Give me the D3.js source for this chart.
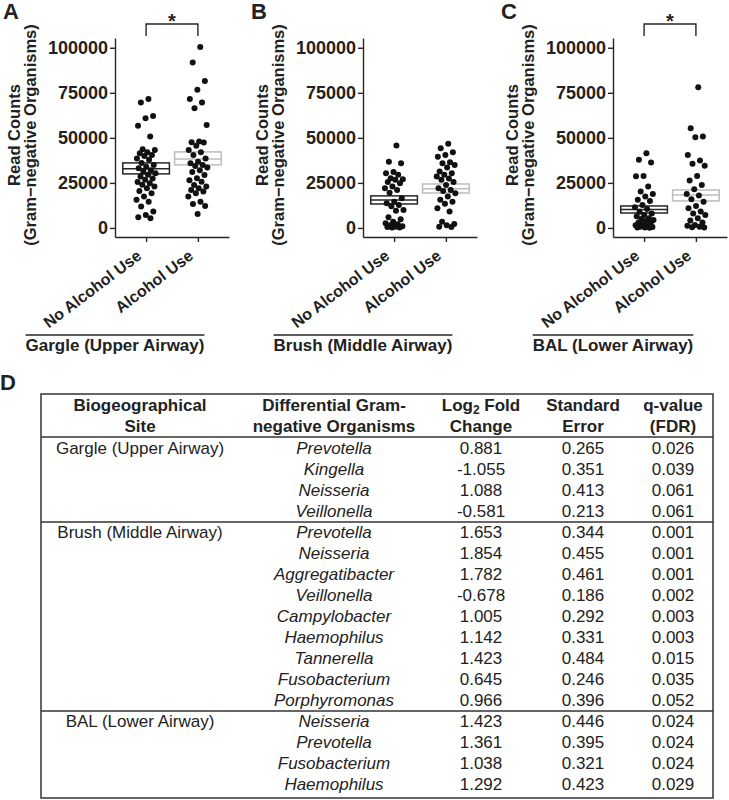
<!DOCTYPE html>
<html>
<head>
<meta charset="utf-8">
<script src="https://cdn.jsdelivr.net/npm/d3@7"></script>
<style>
  body { margin: 0; background: #fff; }
  svg { display: block; }
  text { font-family: 'Liberation Sans', Arial, Helvetica, sans-serif; fill: #222; }
</style>
</head>
<body>
<div id="chart"></div>
<script>
// ---- data ----
const groups = ['No Alcohol Use', 'Alcohol Use']
const panelLetters = ['A', 'B', 'C']
const siteLabels = ['Gargle (Upper Airway)', 'Brush (Middle Airway)', 'BAL (Lower Airway)']
const yTicks = [0, 25000, 50000, 75000, 100000]
const significant = [true, false, true]

const gargleNoAlcohol = [71500, 69600, 62200, 60900, 56700, 50700, 43700, 43300, 42000, 41500, 40500, 40000, 38500, 37800, 36000, 35000, 34000, 33100, 32000, 31300, 30400, 29500, 28500, 27500, 26700, 25500, 24800, 24000, 23000, 22000, 20500, 19300, 17400, 15600, 14500, 11900, 9100, 7200, 5900, 5400]
const gargleAlcohol = [100400, 91800, 81500, 76700, 71500, 69600, 66500, 57200, 48000, 47600, 47400, 45600, 43300, 42000, 40500, 38500, 36800, 35900, 35000, 34400, 33500, 32000, 31000, 29400, 27600, 26500, 25700, 23900, 23000, 22000, 21000, 20200, 19300, 17400, 14600, 13300, 12200, 7800]
const brushNoAlcohol = [45700, 36800, 35900, 31000, 30400, 29500, 27600, 27000, 26700, 25500, 24800, 23000, 22000, 21100, 19500, 16500, 14600, 13700, 12800, 12000, 10000, 9500, 5900, 4800, 3500, 2600, 2000, 1500, 1000, 700, 500, 300, 200]
const brushAlcohol = [46700, 44300, 42000, 40500, 39500, 36500, 35900, 35000, 33500, 31300, 30400, 29500, 28500, 27500, 26700, 25500, 23900, 22000, 21100, 20500, 19300, 17400, 15600, 14600, 13500, 10900, 9100, 3500, 2200, 1500, 700, 500]
const balNoAlcohol = [41500, 37800, 36300, 28900, 28700, 23000, 20200, 18900, 17400, 15600, 15000, 12800, 11500, 10500, 9000, 8000, 7200, 6500, 5400, 5000, 4400, 3800, 3000, 2600, 2000, 1500, 1000, 700, 500, 300, 200, 100]
const balAlcohol = [78100, 55400, 50700, 50400, 40500, 37400, 35600, 34500, 28900, 26300, 23900, 21500, 18900, 18000, 15900, 14600, 12200, 10900, 9100, 8000, 7200, 5400, 4100, 3000, 1700, 1200, 700, 400, 200]

// crossbars: [lower, mean, upper]
const gargleBoxes = [[30000, 32800, 36100], [35000, 38300, 42200]]
const brushBoxes = [[13300, 15500, 17800], [19400, 21700, 24400]]
const balBoxes = [[8300, 10200, 12200], [15000, 18300, 21100]]

const tableHeader = [
  ['Biogeographical', 'Site'],
  ['Differential Gram-', 'negative Organisms'],
  ['Log2 Fold', 'Change'],
  ['Standard', 'Error'],
  ['q-value', '(FDR)']
]
const tableSites = ['Gargle (Upper Airway)', 'Brush (Middle Airway)', 'BAL (Lower Airway)']
const siteRowCounts = [4, 9, 4]
const organisms = ['Prevotella', 'Kingella', 'Neisseria', 'Veillonella',
  'Prevotella', 'Neisseria', 'Aggregatibacter', 'Veillonella', 'Campylobacter', 'Haemophilus', 'Tannerella', 'Fusobacterium', 'Porphyromonas',
  'Neisseria', 'Prevotella', 'Fusobacterium', 'Haemophilus']
const log2FoldChange = ['0.881', '-1.055', '1.088', '-0.581',
  '1.653', '1.854', '1.782', '-0.678', '1.005', '1.142', '1.423', '0.645', '0.966',
  '1.423', '1.361', '1.038', '1.292']
const standardError = ['0.265', '0.351', '0.413', '0.213',
  '0.344', '0.455', '0.461', '0.186', '0.292', '0.331', '0.484', '0.246', '0.396',
  '0.446', '0.395', '0.321', '0.423']
const qValue = ['0.026', '0.039', '0.061', '0.061',
  '0.001', '0.001', '0.001', '0.002', '0.003', '0.003', '0.015', '0.035', '0.052',
  '0.024', '0.024', '0.024', '0.029']

const panels = [
  { letter: panelLetters[0], site: siteLabels[0], points: [gargleNoAlcohol, gargleAlcohol], boxes: gargleBoxes, sig: significant[0] },
  { letter: panelLetters[1], site: siteLabels[1], points: [brushNoAlcohol, brushAlcohol], boxes: brushBoxes, sig: significant[1] },
  { letter: panelLetters[2], site: siteLabels[2], points: [balNoAlcohol, balAlcohol], boxes: balBoxes, sig: significant[2] }
]

// ---- layout ----
const width = 729
const height = 800
const panelLeft = [115, 363, 613]
const panelWidth = 114
const plotTop = 38
const plotBottom = 237
const ink = '#262626'

const svg = d3
  .select('#chart')
  .append('svg')
  .attr('width', width)
  .attr('height', height)

// shared y scale, ggplot-style 5% expansion
const yMax = d3.max(panels, p => d3.max(p.points, s => d3.max(s)))
const yPad = yMax * 0.05
const yPositionScale = d3
  .scaleLinear()
  .domain([-yPad, yMax + yPad])
  .range([plotBottom, plotTop])

panels.forEach((p, pi) => {
  const x0 = panelLeft[pi]
  const g = svg.append('g').attr('class', 'panel')

  const xPositionScale = d3
    .scalePoint()
    .domain(groups)
    .range([x0, x0 + panelWidth])
    .padding(0.6)
  const step = xPositionScale.step()

  // crossbars first, dots on top
  groups.forEach((grp, gi) => {
    const [lo, mid, hi] = p.boxes[gi]
    const cx = xPositionScale(grp)
    const bw = step * 0.9
    const col = gi === 0 ? '#262626' : '#bdbdbd'
    g.append('rect')
      .attr('x', cx - bw / 2)
      .attr('y', yPositionScale(hi))
      .attr('width', bw)
      .attr('height', yPositionScale(lo) - yPositionScale(hi))
      .attr('fill', 'white')
      .attr('stroke', col)
      .attr('stroke-width', 1.5)
    g.append('line')
      .attr('x1', cx - bw / 2)
      .attr('x2', cx + bw / 2)
      .attr('y1', yPositionScale(mid))
      .attr('y2', yPositionScale(mid))
      .attr('stroke', col)
      .attr('stroke-width', 1.5)
  })

  groups.forEach((grp, gi) => {
    g.selectAll('.dot' + gi)
      .data(p.points[gi])
      .enter()
      .append('circle')
      .attr('class', 'dot' + gi)
      // deterministic spread standing in for ggplot's jitter
      .attr('cx', (d, i) => xPositionScale(grp) + ((((i + 1) * 0.618034) % 1) - 0.5) * 0.38 * step)
      .attr('cy', d => yPositionScale(d))
      .attr('r', 3)
      .attr('fill', '#111')
  })

  const yAxis = d3.axisLeft(yPositionScale)
    .tickValues(yTicks)
    .tickFormat(d3.format('d'))
    .tickSize(5)
    .tickSizeOuter(0)
  const ya = g.append('g')
    .attr('class', 'axis y-axis')
    .attr('transform', 'translate(' + x0 + ',0)')
    .call(yAxis)

  const xAxis = d3.axisBottom(xPositionScale).tickSize(5).tickSizeOuter(0)
  const xa = g.append('g')
    .attr('class', 'axis x-axis')
    .attr('transform', 'translate(0,' + plotBottom + ')')
    .call(xAxis)

  ;[ya, xa].forEach(a => {
    a.selectAll('path, line').attr('stroke', ink).attr('stroke-width', 1.4)
    a.selectAll('text')
      .attr('fill', ink)
      .style('font-weight', 'bold')
  })
  ya.selectAll('text').attr('x', -7).style('font-size', '18px')

  xa.selectAll('text')
    .attr('x', 0)
    .attr('y', 0)
    .attr('dy', 0)
    .attr('text-anchor', 'end')
    .style('font-size', '16px')
    .attr('transform', 'translate(-4,21) rotate(-37)')

  // y title, two lines
  const yTitle = g.append('text')
    .attr('text-anchor', 'middle')
    .attr('transform', 'translate(' + (x0 - 95) + ',135) rotate(-90)')
    .style('font-size', '16.5px')
    .style('font-weight', 'bold')
  yTitle.append('tspan').attr('x', 0).attr('y', 0).text('Read Counts')
  yTitle.append('tspan').attr('x', 0).attr('y', 16).text('(Gram\u2212negative Organisms)')

  // panel letter
  g.append('text')
    .attr('x', x0 - 112)
    .attr('y', 19)
    .style('font-size', '22px')
    .style('font-weight', 'bold')
    .attr('fill', '#111')
    .text(p.letter)

  // significance bracket
  if (p.sig) {
    const a = xPositionScale(groups[0])
    const b = xPositionScale(groups[1])
    g.append('path')
      .attr('d', 'M' + a + ',36V24H' + b + 'V36')
      .attr('fill', 'none')
      .attr('stroke', ink)
      .attr('stroke-width', 1.4)
    g.append('text')
      .attr('x', (a + b) / 2)
      .attr('y', 28)
      .attr('text-anchor', 'middle')
      .style('font-size', '20px')
      .style('font-weight', 'bold')
      .text('*')
  }

  // site label with rule above it
  const siteText = g.append('text')
    .attr('x', x0)
    .attr('y', 351)
    .attr('text-anchor', 'middle')
    .style('font-size', '17px')
    .style('font-weight', 'bold')
    .text(p.site)
  const tw = siteText.node().getComputedTextLength()
  g.append('line')
    .attr('x1', x0 - tw / 2)
    .attr('x2', x0 + tw / 2)
    .attr('y1', 335)
    .attr('y2', 335)
    .attr('stroke', ink)
    .attr('stroke-width', 1.4)
})

// ---- panel D: table ----
const tableLeft = 41
const tableRight = 713
const tableTop = 394
const headerBottom = 437
const rowPitch = 21
const colCenters = [140, 334, 481, 583, 673]
const nRows = organisms.length
const tableBottom = headerBottom + nRows * rowPitch + 4

const tg = svg.append('g').attr('class', 'table')

tg.append('text')
  .attr('x', 0)
  .attr('y', 390)
  .style('font-size', '22px')
  .style('font-weight', 'bold')
  .attr('fill', '#111')
  .text('D')

tg.append('rect')
  .attr('x', tableLeft)
  .attr('y', tableTop)
  .attr('width', tableRight - tableLeft)
  .attr('height', tableBottom - tableTop)
  .attr('fill', 'none')
  .attr('stroke', '#333')
  .attr('stroke-width', 1.5)

tableHeader.forEach((lines, ci) => {
  lines.forEach((line, li) => {
    const t = tg.append('text')
      .attr('x', colCenters[ci])
      .attr('y', 411 + li * 21)
      .attr('text-anchor', 'middle')
      .style('font-size', '17px')
      .style('font-weight', 'bold')
    if (line.startsWith('Log2')) {
      t.append('tspan').text('Log')
      t.append('tspan').attr('dy', 2.5).style('font-size', '12px').text('2')
      t.append('tspan').attr('dy', -2.5).text(' Fold')
    } else {
      t.text(line)
    }
  })
})

// row centres, with a divider between site groups
const rowY = i => headerBottom + 10.5 + i * rowPitch
const dividers = [headerBottom]
let acc = 0
siteRowCounts.forEach((n, si) => {
  if (si > 0) dividers.push(headerBottom + acc * rowPitch + 1)
  acc += n
})
dividers.forEach(y => {
  tg.append('line')
    .attr('x1', tableLeft)
    .attr('x2', tableRight)
    .attr('y1', y)
    .attr('y2', y)
    .attr('stroke', '#333')
    .attr('stroke-width', 1.5)
})

acc = 0
siteRowCounts.forEach((n, si) => {
  tg.append('text')
    .attr('x', colCenters[0])
    .attr('y', rowY(acc) + 6)
    .attr('text-anchor', 'middle')
    .style('font-size', '17px')
    .text(tableSites[si])
  acc += n
})

const cols = [organisms, log2FoldChange, standardError, qValue]
cols.forEach((col, ci) => {
  tg.selectAll('.col' + ci)
    .data(col)
    .enter()
    .append('text')
    .attr('class', 'col' + ci)
    .attr('x', colCenters[ci + 1])
    .attr('y', (d, i) => rowY(i) + 6)
    .attr('text-anchor', 'middle')
    .style('font-size', '17px')
    .style('font-style', ci === 0 ? 'italic' : 'normal')
    .text(d => d)
})
</script>
</body>
</html>
